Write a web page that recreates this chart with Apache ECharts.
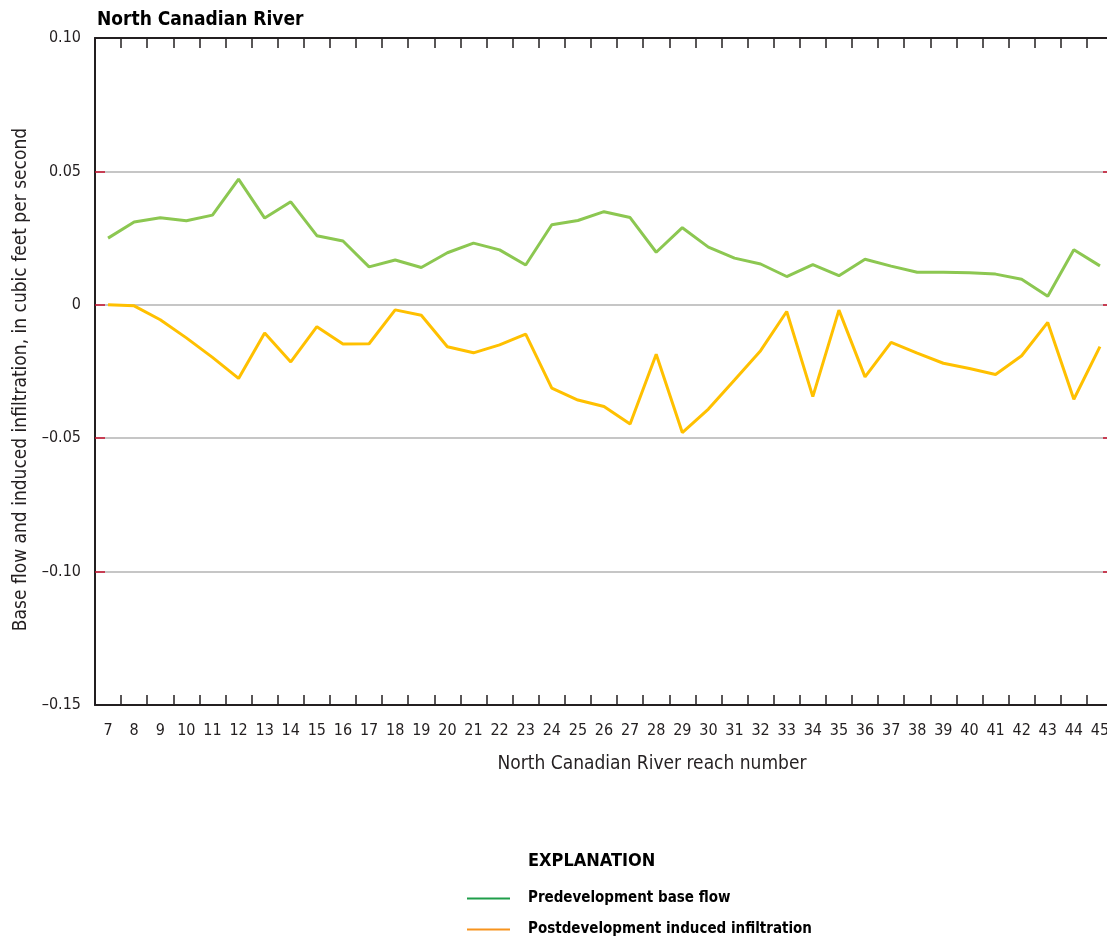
<!DOCTYPE html>
<html>
<head>
<meta charset="utf-8">
<title>North Canadian River</title>
<script src="https://cdn.jsdelivr.net/npm/echarts@6.0.0/dist/echarts.min.js"></script>
<style>
  html, body { margin: 0; padding: 0; background: #fff; }
  #chart { width: 1107px; height: 940px; }
</style>
</head>
<body>
<div id="chart"></div>
<script>
// reach numbers along the x axis
const reaches = ['7', '8', '9', '10', '11', '12', '13', '14', '15', '16', '17', '18', '19', '20',
  '21', '22', '23', '24', '25', '26', '27', '28', '29', '30', '31', '32', '33', '34', '35', '36',
  '37', '38', '39', '40', '41', '42', '43', '44', '45'];

// cubic feet per second
const baseFlow = [0.025, 0.031, 0.0326, 0.0315, 0.0336, 0.0471, 0.0325, 0.0386, 0.0259, 0.0239,
  0.0142, 0.0168, 0.014, 0.0195, 0.0231, 0.0206, 0.0149, 0.030, 0.0316, 0.0349,
  0.0327, 0.0197, 0.0289, 0.0216, 0.0175, 0.0153, 0.0106, 0.0151, 0.0109, 0.0171,
  0.0145, 0.0122, 0.0122, 0.012, 0.0115, 0.0096, 0.0032, 0.0206, 0.0146];

const inducedInfiltration = [0, -0.0004, -0.0056, -0.0124, -0.0197, -0.0276, -0.0106, -0.0214, -0.0082, -0.0147,
  -0.0146, -0.0019, -0.0039, -0.0157, -0.018, -0.015, -0.011, -0.0312, -0.0357, -0.0381,
  -0.0447, -0.0185, -0.0479, -0.0391, -0.0282, -0.0172, -0.0025, -0.0344, -0.002, -0.027,
  -0.0141, -0.0181, -0.0219, -0.0239, -0.0261, -0.0191, -0.0066, -0.0354, -0.0157];

const yTicks = [-0.10, -0.05, 0, 0.05];

const seriesNames = ['Predevelopment base flow', 'Postdevelopment induced infiltration'];
const legendColors = ['#1f9e4a', '#f7941e'];   // explanation swatches differ from the plotted lines
const lineColors = ['#8cc751', '#ffc000'];

const FONT = '"Liberation Sans Narrow", "DejaVu Sans Condensed", "Roboto", sans-serif';

function fmtY(v) {
  if (Math.abs(v) < 1e-9) return '0';
  let s = Math.abs(v).toFixed(2);
  return v < 0 ? '\u2013' + s : s;
}

function legendFor(i, top) {
  return {
    orient: 'vertical',
    left: 467,
    top: top,
    padding: 0,
    icon: 'rect',
    itemWidth: 43,
    itemHeight: 2,
    textStyle: { fontFamily: FONT, fontSize: 15, fontWeight: 'bold', color: '#000', padding: [0, 0, 0, 13] },
    data: [{ name: seriesNames[i], itemStyle: { color: legendColors[i] } }]
  };
}

function categoryAxis(pos) {
  return {
    type: 'category',
    data: reaches,
    position: pos,
    boundaryGap: true,
    axisLine: { onZero: false, lineStyle: { color: '#231f20', width: 2 } },
    axisTick: { show: true, interval: 0, inside: true, length: 10, lineStyle: { color: '#231f20', width: 1.5 } },
    splitLine: { show: false }
  };
}

let myChart = echarts.init(document.getElementById('chart'));

let bottomAxis = categoryAxis('bottom');
bottomAxis.name = 'North Canadian River reach number';
bottomAxis.nameLocation = 'middle';
bottomAxis.nameGap = 50;
bottomAxis.nameTextStyle = { fontFamily: FONT, fontSize: 19, color: '#231f20', padding: [0, 0, 0, 96] };
bottomAxis.axisLabel = { fontFamily: FONT, fontSize: 16, color: '#231f20', margin: 18, interval: 0 };

let topAxis = categoryAxis('top');
topAxis.axisLabel = { show: false };

myChart.setOption({
  animation: false,
  textStyle: { fontFamily: FONT, color: '#231f20' },
  title: [
    {
      text: 'North Canadian River',
      left: 92,
      top: 6,
      textStyle: { fontFamily: FONT, fontSize: 19, fontWeight: 'bold', color: '#000' }
    },
    {
      text: 'EXPLANATION',
      left: 523,
      top: 847,
      textStyle: { fontFamily: FONT, fontSize: 18, fontWeight: 'bold', color: '#000' }
    }
  ],
  grid: {
    left: 95,
    top: 38,
    width: 1018,
    height: 667,
    outerBoundsMode: 'none',
    containLabel: false
  },
  legend: [legendFor(0, 891), legendFor(1, 922)],
  xAxis: [bottomAxis, topAxis],
  yAxis: [
    {
      type: 'value',
      min: -0.15,
      max: 0.10,
      interval: 0.05,
      name: 'Base flow and induced infiltration, in cubic feet per second',
      nameLocation: 'middle',
      nameGap: 63,
      nameTextStyle: { fontFamily: FONT, fontSize: 19, color: '#231f20', padding: [0, 16, 0, 0] },
      axisLine: { show: true, lineStyle: { color: '#231f20', width: 2 } },
      axisTick: {
        show: true,
        inside: true,
        length: 10,
        customValues: yTicks,
        lineStyle: { color: '#c8102e', width: 1.5 }
      },
      axisLabel: { fontFamily: FONT, fontSize: 16, color: '#231f20', margin: 14, formatter: fmtY },
      splitLine: { show: true, lineStyle: { color: '#b3b3b3', width: 1.5 } }
    },
    {
      type: 'value',
      min: -0.15,
      max: 0.10,
      interval: 0.05,
      position: 'right',
      axisLine: { show: false },
      axisTick: {
        show: true,
        inside: true,
        length: 10,
        customValues: yTicks,
        lineStyle: { color: '#c8102e', width: 1.5 }
      },
      axisLabel: { show: false },
      splitLine: { show: false }
    }
  ],
  series: [
    {
      name: seriesNames[0],
      type: 'line',
      data: baseFlow,
      symbol: 'none',
      lineStyle: { color: lineColors[0], width: 3 },
      itemStyle: { color: lineColors[0] }
    },
    {
      name: seriesNames[1],
      type: 'line',
      data: inducedInfiltration,
      symbol: 'none',
      lineStyle: { color: lineColors[1], width: 3 },
      itemStyle: { color: lineColors[1] }
    }
  ]
});
</script>
</body>
</html>
